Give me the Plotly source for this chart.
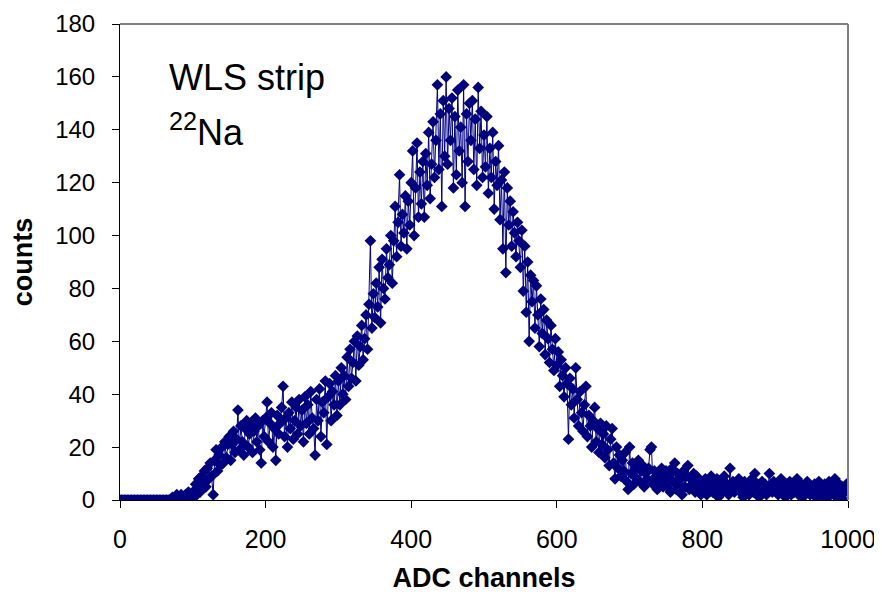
import plotly.graph_objects as go

# ADC channel (every 2nd channel) and counts
channels = list(range(0, 1000, 2)) + [1000]

counts = [
    # 0 - 48
    0, 0, 0, 0, 0, 0, 0, 0, 0, 0, 0, 0, 0, 0, 0, 0, 0, 0, 0, 0, 0, 0, 0, 0, 0,
    # 50 - 98
    0, 0, 0, 0, 0, 0, 0, 0, 0, 0, 0, 1, 0, 1, 2, 0, 1, 2, 1, 0, 2, 1, 3, 2, 1,
    # 100 - 148
    3, 1, 6, 4, 8, 3, 9, 6, 11, 5, 12, 8, 14, 9, 2, 15, 19, 11, 17, 13, 20, 14, 22, 16, 21,
    # 150 - 198
    24, 15, 21, 26, 18, 23, 34, 19, 28, 22, 17, 27, 30, 20, 25, 29, 18, 26, 31, 22, 28, 19, 14, 30, 24,
    # 200 - 248
    31, 37, 22, 29, 33, 20, 27, 15, 32, 25, 29, 35, 43, 24, 31, 20, 33, 27, 37, 23, 30, 35, 25, 38, 28,
    # 250 - 298
    34, 22, 39, 29, 36, 25, 41, 31, 27, 17, 38, 30, 42, 24, 37, 33, 45, 21, 39, 44, 30, 41, 36, 47, 32,
    # 300 - 348
    45, 36, 50, 40, 47, 38, 54, 43, 57, 46, 52, 60, 45, 62, 51, 58, 66, 53, 61, 70, 57, 74, 98, 65, 78,
    # 350 - 398
    69, 82, 73, 88, 67, 91, 80, 76, 95, 84, 89, 100, 82, 98, 111, 92, 105, 123, 96, 108, 101, 115, 95, 113, 104,
    # 400 - 448
    120, 132, 100, 118, 135, 107, 124, 112, 128, 107, 131, 119, 139, 114, 127, 143, 122, 136, 157, 125, 146, 111, 151, 130, 160,
    # 450 - 498
    127, 148, 136, 152, 118, 145, 123, 155, 132, 141, 120, 157, 111, 146, 128, 150, 136, 151, 125, 144, 119, 156, 133, 147, 122,
    # 500 - 548
    138, 126, 145, 116, 133, 122, 139, 110, 128, 119, 134, 106, 121, 95, 124, 86, 118, 104, 113, 96, 109, 101, 92, 105, 98,
    # 550 - 598
    88, 102, 79, 96, 71, 90, 60, 85, 75, 83, 65, 81, 70, 58, 76, 63, 72, 55, 68, 61, 52, 66, 57, 49, 61,
    # 600 - 648
    51, 56, 43, 53, 47, 39, 50, 44, 23, 46, 36, 42, 31, 50, 38, 28, 41, 33, 26, 36, 43, 24, 32, 28, 20,
    # 650 - 698
    30, 35, 22, 27, 18, 29, 21, 25, 16, 28, 19, 13, 23, 27, 14, 8, 20, 12, 17, 9, 15, 11, 18, 7, 4,
    # 700 - 748
    20, 10, 14, 6, 12, 8, 15, 7, 11, 13, 5, 10, 8, 12, 19, 20, 6, 11, 9, 4, 10, 7, 12, 5, 8,
    # 750 - 798
    11, 5, 9, 3, 12, 7, 14, 4, 10, 6, 8, 2, 11, 5, 9, 13, 4, 8, 6, 10, 3, 9, 5, 7, 2,
    # 800 - 848
    6, 4, 8, 2, 7, 5, 9, 3, 6, 4, 8, 1, 5, 7, 3, 9, 4, 6, 2, 12, 5, 7, 3, 6, 4,
    # 850 - 898
    8, 3, 5, 1, 7, 4, 6, 2, 5, 8, 3, 10, 4, 6, 1, 5, 7, 3, 6, 2, 4, 10, 5, 3, 7,
    # 900 - 948
    4, 6, 2, 5, 8, 3, 5, 1, 6, 4, 7, 2, 5, 3, 6, 8, 2, 4, 6, 1, 5, 3, 7, 4, 2,
    # 950 - 998
    5, 3, 6, 1, 4, 7, 2, 5, 3, 6, 0, 4, 7, 2, 5, 3, 8, 1, 4, 6, 2, 5, 0, 3, 6,
    # 1000
    4,
]

navy = "#000080"
font = "Liberation Sans, Arial, sans-serif"

fig = go.Figure()

fig.add_trace(go.Scatter(
    x=channels, y=counts, mode="lines+markers",
    line=dict(color=navy, width=1),
    marker=dict(symbol="diamond", size=9, color=navy),
    showlegend=False,
))

# page body adds an 8px margin, so the figure is a bit smaller than the window
fig.update_layout(
    width=874, height=593,
    margin=dict(l=112, r=34, t=16, b=101),
    paper_bgcolor="white", plot_bgcolor="white",
    font=dict(family=font, size=24, color="black"),
    xaxis=dict(
        range=[0, 1000], dtick=200, showgrid=False, zeroline=False,
        showline=True, linecolor="black", linewidth=1,
        ticks="outside", ticklen=7, tickcolor="black",
        ticklabelstandoff=10, automargin=False,
        tickfont=dict(size=25),
        title=dict(text="<b>ADC channels</b>", font=dict(size=27), standoff=16),
    ),
    yaxis=dict(
        range=[0, 180], dtick=20, showgrid=False, zeroline=False,
        showline=True, linecolor="black", linewidth=1,
        ticks="outside", ticklen=7, tickcolor="black",
        ticklabelstandoff=12, automargin=False,
        title=dict(text="<b>counts</b>", font=dict(size=27), standoff=20),
    ),
    annotations=[
        dict(text="WLS strip", x=0.065, y=0.934, xref="paper", yref="paper",
             xanchor="left", yanchor="top", showarrow=False,
             font=dict(size=36)),
        dict(text="<sup>22</sup>Na", x=0.065, y=0.83, xref="paper", yref="paper",
             xanchor="left", yanchor="top", showarrow=False,
             font=dict(size=36)),
    ],
    shapes=[
        dict(type="line", xref="paper", yref="paper", x0=0, x1=1, y0=1, y1=1,
             line=dict(color="#808080", width=2)),
        dict(type="line", xref="paper", yref="paper", x0=1, x1=1, y0=0, y1=1,
             line=dict(color="#808080", width=2)),
    ],
)

fig.write_html("out.html")
